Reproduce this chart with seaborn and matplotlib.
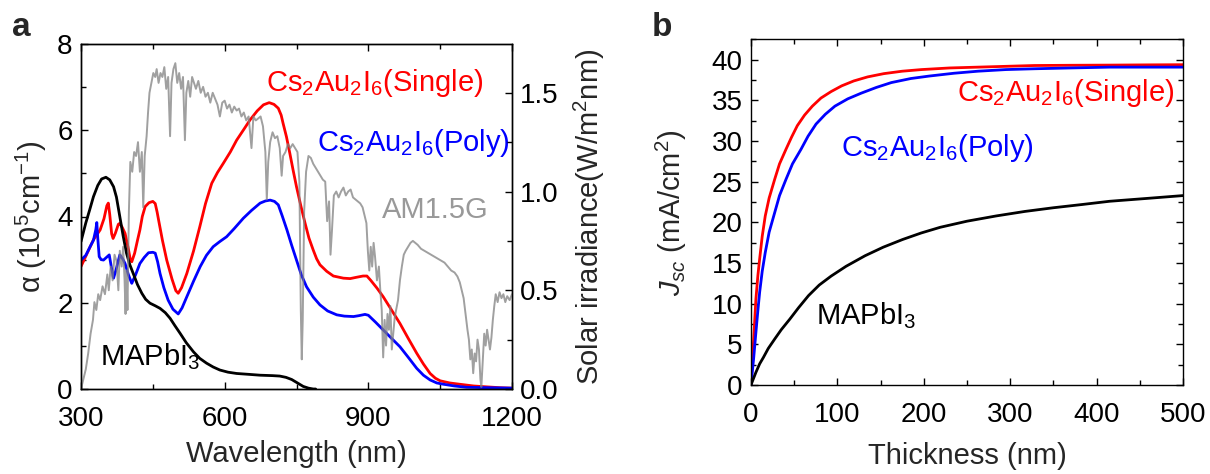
import matplotlib
matplotlib.use("Agg")
import matplotlib.pyplot as plt
import seaborn as sns
from matplotlib.ticker import MultipleLocator, FormatStrFormatter

# ---------------- data: panel a (absorption coefficient, 1e5 cm^-1) ----------------
single_nm = [300, 313, 326, 340, 348, 354, 357, 360, 364, 367, 372, 378, 381, 386, 392, 398, 403, 406,
             412, 418, 423, 428, 434, 442, 450, 455, 459, 462, 470, 479, 490, 498, 503, 510, 521, 535,
             548, 560, 573, 585, 597, 612, 625, 640, 653, 668, 681, 693, 703, 712, 718, 722, 729, 736,
             743, 750, 759, 768, 776, 785, 792, 799, 813, 827, 848, 862, 875, 889, 897, 905, 918, 931,
             948, 966, 983, 1001, 1015, 1029, 1040, 1050, 1070, 1091, 1120, 1147, 1175, 1200]
single_alpha = [2.84, 3.15, 3.46, 3.69, 3.95, 4.25, 4.31, 4.05, 3.60, 3.49, 3.62, 3.82, 3.84, 3.75, 3.61,
                3.30, 3.00, 2.95, 3.15, 3.45, 3.69, 4.00, 4.23, 4.32, 4.35, 4.30, 4.10, 3.92, 3.45, 2.99,
                2.55, 2.28, 2.22, 2.35, 2.68, 3.20, 3.76, 4.30, 4.77, 5.02, 5.23, 5.50, 5.77, 6.02, 6.24,
                6.45, 6.59, 6.64, 6.60, 6.51, 6.35, 6.16, 5.85, 5.47, 5.07, 4.69, 4.25, 3.84, 3.50, 3.22,
                3.02, 2.88, 2.73, 2.62, 2.57, 2.56, 2.59, 2.62, 2.62, 2.52, 2.34, 2.14, 1.84, 1.52, 1.18,
                0.83, 0.58, 0.36, 0.25, 0.19, 0.14, 0.11, 0.07, 0.05, 0.03, 0.02]

poly_nm = [300, 310, 319, 326, 331, 333, 335, 338, 342, 347, 353, 359, 363, 368, 374, 381, 387, 392,
           399, 406, 414, 423, 432, 441, 450, 455, 460, 465, 473, 482, 492, 503, 511, 521, 535, 549,
           562, 576, 590, 604, 620, 639, 656, 674, 685, 695, 704, 712, 720, 730, 740, 750, 760, 771,
           785, 799, 815, 834, 850, 869, 880, 893, 900, 915, 931, 948, 966, 983, 1001, 1015, 1029,
           1043, 1057, 1080, 1105, 1150, 1200]
poly_alpha = [2.99, 3.10, 3.30, 3.45, 3.70, 3.86, 3.50, 3.07, 3.00, 2.99, 3.05, 3.11, 2.85, 2.57, 2.80,
              3.11, 3.02, 2.91, 2.65, 2.45, 2.65, 2.91, 3.05, 3.16, 3.17, 3.15, 2.95, 2.68, 2.35, 2.06,
              1.85, 1.74, 1.88, 2.14, 2.50, 2.84, 3.10, 3.30, 3.42, 3.53, 3.72, 3.96, 4.14, 4.31, 4.36,
              4.38, 4.35, 4.27, 4.02, 3.69, 3.33, 2.99, 2.65, 2.37, 2.13, 1.95, 1.81, 1.72, 1.69, 1.68,
              1.70, 1.73, 1.71, 1.55, 1.37, 1.18, 0.98, 0.74, 0.48, 0.32, 0.21, 0.14, 0.11, 0.07, 0.04,
              0.03, 0.02]

mapi_nm = [300, 310, 318, 326, 335, 343, 352, 360, 368, 374, 381, 388, 395, 402, 409, 418, 427, 435,
           444, 455, 465, 476, 486, 496, 507, 520, 535, 548, 562, 576, 590, 607, 625, 650, 674, 700,
           715, 728, 740, 752, 764, 775, 785, 790]
mapi_alpha = [3.42, 3.85, 4.15, 4.46, 4.72, 4.87, 4.91, 4.85, 4.69, 4.45, 4.00, 3.55, 3.15, 2.88, 2.68,
              2.42, 2.22, 2.08, 1.99, 1.93, 1.87, 1.77, 1.64, 1.47, 1.29, 1.07, 0.86, 0.71, 0.60, 0.51,
              0.44, 0.39, 0.36, 0.34, 0.32, 0.31, 0.30, 0.27, 0.22, 0.14, 0.06, 0.02, 0.00, 0.00]

# AM1.5G solar irradiance (W m^-2 nm^-1)
am_nm = [300, 305, 310, 315, 320, 325, 328, 332, 336, 340, 345, 350, 355, 358, 362, 366, 370, 374, 378,
         381, 385, 388, 391, 393, 395, 397, 400, 403, 407, 411, 415, 419, 423, 427, 430, 433, 437, 440,
         443, 447, 451, 455, 458, 462, 466, 470, 474, 478, 482, 486, 489, 493, 497, 501, 505, 509, 513,
         517, 520, 524, 528, 532, 536, 540, 545, 550, 555, 560, 565, 570, 575, 580, 585, 590, 595, 600,
         605, 610, 615, 620, 625, 630, 635, 640, 645, 650, 656, 660, 665, 670, 675, 680, 685, 688, 691,
         695, 700, 705, 710, 715, 719, 722, 727, 732, 737, 742, 747, 752, 756, 759, 761, 763, 766, 770,
         775, 780, 785, 790, 795, 800, 805, 810, 814, 818, 821, 824, 828, 833, 838, 843, 848, 853, 858,
         863, 868, 873, 878, 883, 888, 892, 896, 899, 902, 905, 908, 911, 914, 918, 922, 925, 928, 931,
         934, 937, 940, 943, 946, 949, 952, 955, 958, 962, 966, 970, 974, 978, 983, 988, 993, 998, 1003,
         1010, 1017, 1024, 1031, 1038, 1045, 1052, 1059, 1066, 1073, 1080, 1086, 1091, 1095, 1099, 1103,
         1107, 1110, 1113, 1116, 1119, 1122, 1125, 1128, 1131, 1134, 1136, 1139, 1142, 1145, 1148, 1151,
         1154, 1157, 1160, 1163, 1166, 1170, 1174, 1178, 1182, 1186, 1190, 1195, 1200]
am_irr = [0.00, 0.05, 0.10, 0.18, 0.28, 0.35, 0.44, 0.40, 0.48, 0.45, 0.52, 0.48, 0.58, 0.50, 0.62, 0.55,
          0.68, 0.65, 0.50, 0.70, 0.62, 0.72, 0.55, 0.38, 0.60, 0.40, 0.90, 1.15, 1.10, 1.20, 1.18, 1.25,
          1.10, 1.20, 0.92, 1.18, 1.28, 1.40, 1.50, 1.55, 1.60, 1.58, 1.62, 1.55, 1.60, 1.58, 1.63, 1.52,
          1.58, 1.28, 1.55, 1.62, 1.65, 1.55, 1.60, 1.52, 1.58, 1.26, 1.50, 1.56, 1.48, 1.58, 1.55, 1.52,
          1.56, 1.50, 1.53, 1.48, 1.50, 1.45, 1.50, 1.47, 1.44, 1.38, 1.45, 1.46, 1.42, 1.44, 1.40, 1.43,
          1.41, 1.42, 1.38, 1.40, 1.36, 1.38, 1.22, 1.38, 1.36, 1.37, 1.38, 1.33, 1.20, 0.96, 1.15, 1.25,
          1.30, 1.27, 1.28, 1.22, 1.08, 1.18, 1.20, 1.24, 1.22, 1.24, 1.22, 1.20, 1.05, 0.40, 0.15, 0.35,
          0.90, 1.10, 1.18, 1.17, 1.14, 1.12, 1.10, 1.08, 1.06, 1.05, 0.85, 0.95, 0.68, 0.80, 0.98, 1.00,
          0.97, 1.00, 1.02, 0.98, 1.00, 1.01, 0.97, 0.96, 0.95, 0.94, 0.92, 0.88, 0.84, 0.70, 0.60, 0.72,
          0.62, 0.74, 0.67, 0.55, 0.62, 0.50, 0.40, 0.16, 0.35, 0.22, 0.38, 0.30, 0.42, 0.20, 0.28, 0.36,
          0.40, 0.45, 0.55, 0.62, 0.68, 0.70, 0.72, 0.74, 0.75, 0.74, 0.73, 0.71, 0.70, 0.69, 0.68, 0.67,
          0.66, 0.65, 0.64, 0.62, 0.60, 0.59, 0.57, 0.54, 0.50, 0.46, 0.38, 0.30, 0.25, 0.15, 0.20, 0.08,
          0.18, 0.14, 0.25, 0.20, 0.05, 0.01, 0.15, 0.28, 0.22, 0.30, 0.25, 0.20, 0.26, 0.35, 0.42, 0.48,
          0.44, 0.49, 0.46, 0.48, 0.44, 0.47, 0.45, 0.48]

# ---------------- data: panel b (Jsc, mA/cm^2 vs thickness, nm) ----------------
single_t = [0, 3, 5.7, 8, 10, 13, 16.5, 21, 27.4, 33, 40.5, 47, 53.6, 62, 71, 81, 92.8, 105, 118.9, 135,
            153.7, 175, 197.3, 230, 262.6, 295, 328, 370, 415, 460, 500]
single_j = [0, 5.5, 10.6, 13.5, 15.5, 18.3, 20.8, 23.0, 25.3, 27.2, 29.0, 30.5, 31.9, 33.2, 34.3, 35.3,
            36.1, 36.8, 37.4, 37.9, 38.3, 38.6, 38.8, 39.0, 39.1, 39.2, 39.3, 39.33, 39.35, 39.38, 39.4]

poly_t = [0, 3, 5.7, 8, 10, 13, 16.5, 21, 27.4, 33, 40.5, 48, 57.9, 66, 75.3, 86, 97.1, 112, 127.6, 145,
          162.4, 185, 206, 235, 262.6, 295, 328, 370, 415, 460, 500]
poly_j = [0, 3.2, 6.5, 9.2, 11.4, 14.0, 16.3, 18.8, 21.2, 23.3, 25.3, 27.2, 29.0, 30.6, 32.1, 33.3, 34.3,
          35.2, 35.9, 36.6, 37.2, 37.7, 38.0, 38.35, 38.6, 38.8, 38.9, 39.0, 39.1, 39.1, 39.1]

mapi_t = [0, 2.5, 5.7, 10, 14.4, 20, 27.4, 35, 44.9, 55, 66.6, 79, 92.8, 110, 132, 153, 175.5, 197, 219,
          250, 284, 317, 349.7, 383, 415, 458, 500]
mapi_j = [0, 0.7, 1.56, 2.6, 3.4, 4.5, 5.65, 6.8, 8.1, 9.5, 11.0, 12.3, 13.4, 14.6, 15.9, 16.95, 17.9,
          18.7, 19.4, 20.15, 20.8, 21.35, 21.8, 22.2, 22.6, 22.95, 23.3]

# ---------------- style ----------------
sns.set_theme(style="ticks")
plt.rcParams["font.family"] = ["Liberation Sans", "DejaVu Sans"]
plt.rcParams["mathtext.fontset"] = "custom"
plt.rcParams["mathtext.rm"] = "Liberation Sans"
plt.rcParams["mathtext.it"] = "Liberation Sans:italic"
plt.rcParams["mathtext.bf"] = "Liberation Sans:bold"
plt.rcParams["axes.linewidth"] = 1.0
plt.rcParams["axes.edgecolor"] = "black"
plt.rcParams["lines.solid_joinstyle"] = "round"

TICK = 20
LAB = 21
RED = "#ff0000"
BLUE = "#0000ff"
GRAY = "#808080"
LW = 2.0

fig = plt.figure(figsize=(12.1, 4.74), dpi=100)
ax = fig.add_axes([81 / 1210, 1 - 389 / 474, 431 / 1210, 345 / 474])
axb = fig.add_axes([751 / 1210, 1 - 385 / 474, 432 / 1210, 345.5 / 474])


def style_ticks(a, left=True, right=True, top=True):
    a.tick_params(which="both", direction="in", top=top, left=left, right=right,
                  labelsize=TICK, colors="black")
    a.tick_params(which="major", length=5, width=1.0)
    a.tick_params(which="minor", length=3.5, width=1.0)
    a.tick_params(axis="x", pad=12)
    a.tick_params(axis="y", pad=6)


# ---- panel a ----
sns.lineplot(x=single_nm, y=single_alpha, ax=ax, color=RED, lw=LW, estimator=None)
sns.lineplot(x=poly_nm, y=poly_alpha, ax=ax, color=BLUE, lw=LW, estimator=None)
sns.lineplot(x=mapi_nm, y=mapi_alpha, ax=ax, color="black", lw=LW, estimator=None)
ax.set_xlim(300, 1200)
ax.set_ylim(0, 8)
ax.xaxis.set_major_locator(MultipleLocator(300))
ax.xaxis.set_minor_locator(MultipleLocator(150))
ax.yaxis.set_major_locator(MultipleLocator(2))
ax.yaxis.set_minor_locator(MultipleLocator(1))
style_ticks(ax, right=False)
ax.set_xlabel("Wavelength (nm)", fontsize=LAB, labelpad=6)
ax.set_ylabel("α (10$^5$cm$^{-1}$)", fontsize=LAB, labelpad=6)

ax2 = ax.twinx()
sns.lineplot(x=am_nm, y=am_irr, ax=ax2, color=GRAY, lw=1.4, alpha=0.75, estimator=None)
ax2.set_ylim(0, 1.747)
ax2.set_xlim(300, 1200)
ax2.yaxis.set_major_locator(MultipleLocator(0.5))
ax2.yaxis.set_minor_locator(MultipleLocator(0.25))
ax2.yaxis.set_major_formatter(FormatStrFormatter("%.1f"))
ax2.tick_params(which="both", direction="in", right=True, left=False, labelsize=TICK, colors="black")
ax2.tick_params(which="major", length=5, width=1.0)
ax2.tick_params(which="minor", length=3.5, width=1.0)
ax2.tick_params(axis="y", pad=6)
ax2.set_ylabel("Solar irradiance(W/m$^2$nm)", fontsize=LAB, labelpad=9)

ax.text(687, 6.92, "Cs$_2$Au$_2$I$_6$(Single)", color=RED, fontsize=LAB, ha="left", va="baseline")
ax.text(793, 5.51, "Cs$_2$Au$_2$I$_6$(Poly)", color=BLUE, fontsize=LAB, ha="left", va="baseline")
ax.text(929, 3.96, "AM1.5G", color="#999999", fontsize=LAB, ha="left", va="baseline")
ax.text(340, 0.56, "MAPbI$_3$", color="black", fontsize=LAB, ha="left", va="baseline")

# ---- panel b ----
sns.lineplot(x=single_t, y=single_j, ax=axb, color=RED, lw=LW, estimator=None)
sns.lineplot(x=poly_t, y=poly_j, ax=axb, color=BLUE, lw=LW, estimator=None)
sns.lineplot(x=mapi_t, y=mapi_j, ax=axb, color="black", lw=LW, estimator=None)
axb.set_xlim(0, 500)
axb.set_ylim(0, 42.5)
axb.xaxis.set_major_locator(MultipleLocator(100))
axb.xaxis.set_minor_locator(MultipleLocator(50))
axb.yaxis.set_major_locator(MultipleLocator(5))
axb.yaxis.set_minor_locator(MultipleLocator(2.5))
style_ticks(axb)
axb.set_xlabel("Thickness (nm)", fontsize=LAB, labelpad=10)
axb.set_ylabel("$J_{sc}$ (mA/cm$^2$)", fontsize=LAB, labelpad=16)

axb.text(238.7, 34.9, "Cs$_2$Au$_2$I$_6$(Single)", color=RED, fontsize=LAB, ha="left", va="baseline")
axb.text(103.7, 28.2, "Cs$_2$Au$_2$I$_6$(Poly)", color=BLUE, fontsize=LAB, ha="left", va="baseline")
axb.text(75.3, 7.5, "MAPbI$_3$", color="black", fontsize=LAB, ha="left", va="baseline")

# panel letters
fig.text(12 / 1210, 1 - 36 / 474, "a", fontsize=24, fontweight="bold", ha="left", va="baseline")
fig.text(652 / 1210, 1 - 36 / 474, "b", fontsize=24, fontweight="bold", ha="left", va="baseline")

fig.savefig("out.png", dpi=100)
